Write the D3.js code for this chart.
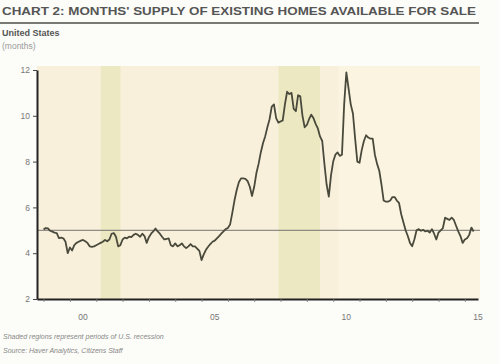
<!DOCTYPE html>
<html>
<head>
<meta charset="utf-8">
<script src="https://cdn.jsdelivr.net/npm/d3@7"></script>
<style>
  html, body { margin: 0; padding: 0; background: #fcfcf8; }
  svg { display: block; }
  text { font-family: "Liberation Sans", Arial, sans-serif; }
</style>
</head>
<body>
<svg id="chart" width="499" height="364"></svg>
<script>
// Monthly months' supply, Jan 1999 – May 2015
const startYear = 1999;
const supply = [
  // 1999
  5.04, 5.10, 5.08, 4.98, 4.94, 4.90, 4.88, 4.66, 4.68, 4.65, 4.50, 4.00,
  // 2000
  4.25, 4.12, 4.35, 4.45, 4.50, 4.55, 4.58, 4.52, 4.45, 4.30, 4.28, 4.30,
  // 2001
  4.35, 4.40, 4.45, 4.50, 4.58, 4.52, 4.60, 4.85, 4.88, 4.72, 4.30, 4.35,
  // 2002
  4.60, 4.68, 4.65, 4.72, 4.70, 4.80, 4.85, 4.80, 4.72, 4.85, 4.75, 4.45,
  // 2003
  4.70, 4.85, 4.95, 5.08, 4.95, 4.85, 4.72, 4.60, 4.62, 4.65, 4.35, 4.30,
  // 2004
  4.43, 4.30, 4.35, 4.43, 4.30, 4.22, 4.30, 4.40, 4.30, 4.30, 4.20, 4.10,
  // 2005
  3.70, 3.95, 4.15, 4.28, 4.40, 4.50, 4.55, 4.65, 4.75, 4.85, 4.95, 5.05,
  // 2006
  5.10, 5.25, 5.75, 6.30, 6.75, 7.10, 7.27, 7.27, 7.25, 7.15, 6.90, 6.50,
  // 2007
  6.90, 7.50, 7.90, 8.40, 8.80, 9.10, 9.50, 9.85, 10.40, 10.50, 9.90, 9.70,
  // 2008
  9.75, 9.80, 10.50, 11.05, 10.95, 11.00, 10.30, 10.20, 10.90, 10.85, 10.00, 9.50,
  // 2009
  9.60, 9.85, 10.05, 9.90, 9.65, 9.45, 9.10, 8.90, 7.90, 7.00, 6.47, 7.40,
  // 2010
  8.00, 8.30, 8.40, 8.25, 8.30, 10.50, 11.90, 11.20, 10.50, 10.10, 9.00, 8.00,
  // 2011
  7.95, 8.50, 8.90, 9.15, 9.05, 9.00, 9.00, 8.30, 7.90, 7.60, 7.00, 6.30,
  // 2012
  6.25, 6.25, 6.30, 6.45, 6.45, 6.30, 6.20, 5.70, 5.35, 5.00, 4.75, 4.45,
  // 2013
  4.30, 4.60, 5.00, 5.05, 4.98, 5.02, 4.95, 4.98, 4.90, 5.05, 4.85, 4.60,
  // 2014
  4.90, 5.00, 5.10, 5.55, 5.50, 5.45, 5.55, 5.45, 5.20, 4.95, 4.75, 4.45,
  // 2015
  4.60, 4.65, 4.80, 5.12, 4.95
];
// Recessions as [start, end] in decimal years
const recessions = [[2001.17, 2001.92], [2007.92, 2009.5]];
const refValue = 5;
const yTicks = [2, 4, 6, 8, 10, 12];
const xLabelYears = [2000, 2005, 2010, 2015];
const xLabels = ["00", "05", "10", "15"];

const data = supply.map((v, i) => ({ t: startYear + i / 12, v }));

const svg = d3.select("#chart");
const x = d3.scaleLinear().domain([1998.75, 2015.5]).range([37, 478]);
const y = d3.scaleLinear().domain([2, 12]).range([299, 70]);

// Title
svg.append("text").attr("x", 2).attr("y", 15)
  .attr("font-size", 10.5).attr("font-weight", "bold").attr("fill", "#555")
  .attr("textLength", 474).attr("lengthAdjust", "spacingAndGlyphs")
  .text("CHART 2: MONTHS' SUPPLY OF EXISTING HOMES AVAILABLE FOR SALE");
svg.append("line").attr("x1", 0).attr("x2", 479).attr("y1", 23).attr("y2", 23)
  .attr("stroke", "#7a7a74").attr("stroke-width", 2);
svg.append("text").attr("x", 2).attr("y", 36)
  .attr("font-size", 9).attr("font-weight", "bold").attr("fill", "#555")
  .text("United States");
svg.append("text").attr("x", 2).attr("y", 49)
  .attr("font-size", 8.5).attr("fill", "#999")
  .text("(months)");

// Plot background
svg.append("rect").attr("x", 37).attr("y", 66).attr("width", 443).attr("height", 233)
  .attr("fill", "#f9f0dc");
svg.append("rect").attr("x", x(2010.2)).attr("y", 66).attr("width", 480 - x(2010.2)).attr("height", 233)
  .attr("fill", "#faf5e2").attr("opacity", 0.8);

// Recession bands
svg.selectAll("rect.rec").data(recessions).join("rect").attr("class", "rec")
  .attr("x", d => x(d[0])).attr("width", d => x(d[1]) - x(d[0]))
  .attr("y", 66).attr("height", 233).attr("fill", "#ece8c2");

// Reference line
svg.append("line").attr("x1", 37).attr("x2", 480)
  .attr("y1", y(refValue)).attr("y2", y(refValue))
  .attr("stroke", "#666", ).attr("stroke-width", 0.9);

// Series line
const line = d3.line().x(d => x(d.t)).y(d => y(d.v));
svg.append("path").datum(data).attr("d", line)
  .attr("fill", "none").attr("stroke", "#4a4a3c").attr("stroke-width", 1.8)
  .attr("stroke-linejoin", "round");

// Y axis
const yAxis = svg.append("g").attr("transform", "translate(37,0)")
  .call(d3.axisLeft(y).tickValues(yTicks).tickSize(4).tickSizeOuter(0).tickFormat(d3.format("d")));
yAxis.select(".domain").attr("stroke", "#222").attr("stroke-width", 2);
yAxis.selectAll(".tick line").attr("stroke", "#444");
yAxis.selectAll(".tick text").attr("fill", "#777").attr("font-size", 8.5)
  .attr("font-family", "Liberation Sans, Arial, sans-serif");

// X axis: year ticks at boundaries, labels mid-year
const yearTicks = d3.range(1999, 2016);
const xAxis = svg.append("g").attr("transform", "translate(0,299)")
  .call(d3.axisBottom(x).tickValues(yearTicks).tickSize(3).tickSizeOuter(0).tickFormat(""));
xAxis.select(".domain").attr("stroke", "#222").attr("stroke-width", 2);
xAxis.selectAll(".tick line").attr("stroke", "#777").attr("stroke-width", 0.8);
svg.selectAll("text.xl").data(xLabelYears).join("text").attr("class", "xl")
  .attr("x", d => x(d + 0.5)).attr("y", 320)
  .attr("text-anchor", "middle").attr("font-size", 8.5).attr("fill", "#777")
  .text((d, i) => xLabels[i]);

// Footnotes
svg.append("text").attr("x", 3).attr("y", 339)
  .attr("font-size", 7).attr("font-style", "italic").attr("fill", "#888")
  .text("Shaded regions represent periods of U.S. recession");
svg.append("text").attr("x", 3).attr("y", 353)
  .attr("font-size", 7).attr("font-style", "italic").attr("fill", "#888")
  .text("Source: Haver Analytics, Citizens Staff");
</script>
</body>
</html>
